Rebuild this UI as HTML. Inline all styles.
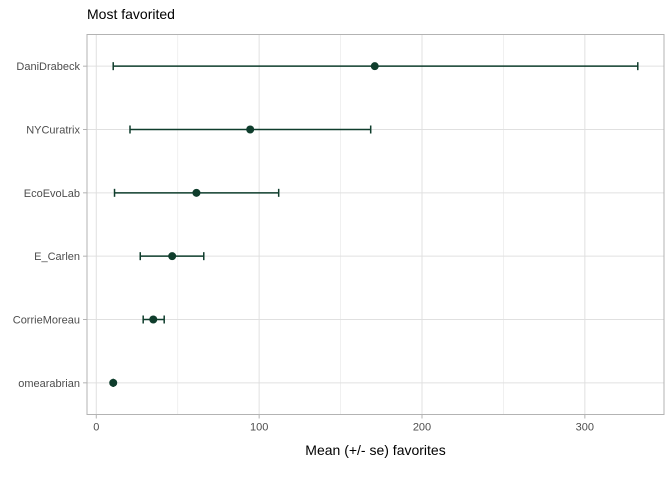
<!DOCTYPE html>
<html><head><meta charset="utf-8"><style>
body{margin:0;background:#fff;font-family:"Liberation Sans",sans-serif}
</style></head><body>
<svg id="chart" width="672" height="480" xmlns="http://www.w3.org/2000/svg"></svg>
<script>
const categories=["DaniDrabeck","NYCuratrix","EcoEvoLab","E_Carlen","CorrieMoreau","omearabrian"];
const means=[171,94.5,61.5,46.6,35,10.4];
const lows=[10.4,20.7,11.2,27,28.8,10.4];
const highs=[332.5,168.5,112,66,41.7,10.4];
const xTicks=[0,100,200,300];
const xMinor=[50,150,250];
const NS="http://www.w3.org/2000/svg";
const svg=document.getElementById('chart');
const L=87,R=664,T=34.5,B=414.5;
const xmin=-5.7,xmax=348.6;
const X=v=>L+(v-xmin)/(xmax-xmin)*(R-L);
const step=(B-T)/categories.length;
const Y=i=>T+step*(i+0.5);
function el(t,a,p){const e=document.createElementNS(NS,t);for(const k in a)e.setAttribute(k,a[k]);(p||svg).appendChild(e);return e;}
const grid=el('g',{});


xMinor.forEach(v=>el('line',{x1:X(v),x2:X(v),y1:T,y2:B,stroke:'#ededed','stroke-width':0.8},grid));
xTicks.forEach(v=>el('line',{x1:X(v),x2:X(v),y1:T,y2:B,stroke:'#e0e0e0','stroke-width':1},grid));
categories.forEach((c,i)=>el('line',{x1:L,x2:R,y1:Y(i),y2:Y(i),stroke:'#e0e0e0','stroke-width':1},grid));
const border=el('rect',{x:L,y:T,width:R-L,height:B-T,fill:'none',stroke:'#b3b3b3','stroke-width':1});


xTicks.forEach(v=>{
  el('line',{x1:X(v),x2:X(v),y1:B,y2:B+4,stroke:'#b3b3b3'});
  const t=el('text',{x:X(v),y:B+16,'text-anchor':'middle','font-size':11,fill:'#4d4d4d'});
  t.textContent=v;
  
  
});
const col='#0f3d2c';
categories.forEach((c,i)=>{
  const y=Y(i);
  el('line',{x1:L-4,x2:L,y1:y,y2:y,stroke:'#b3b3b3'});
  const t=el('text',{x:L-7,y:y+4,'text-anchor':'end','font-size':11,fill:'#4d4d4d'});
  t.textContent=c;
  
  
  const g=el('g',{stroke:col,'stroke-width':1.5});
  
  
  el('line',{x1:X(lows[i]),x2:X(highs[i]),y1:y,y2:y},g);
  el('line',{x1:X(lows[i]),x2:X(lows[i]),y1:y-4,y2:y+4},g);
  el('line',{x1:X(highs[i]),x2:X(highs[i]),y1:y-4,y2:y+4},g);
  const p=el('circle',{cx:X(means[i]),cy:y,r:4,fill:col});
  
  
});
const title=el('text',{x:L,y:19,'font-size':14,fill:'#000'});
title.textContent='Most favorited';


const xt=el('text',{x:(L+R)/2,y:455,'text-anchor':'middle','font-size':14,fill:'#000'});
xt.textContent='Mean (+/- se) favorites';


</script>
</body></html>
